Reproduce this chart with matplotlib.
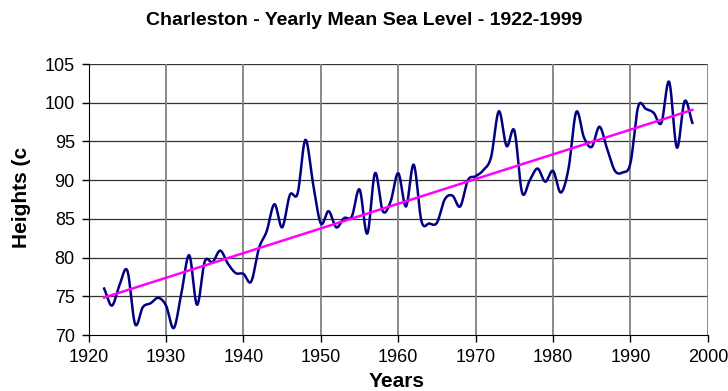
import numpy as np
import matplotlib
matplotlib.use("Agg")
import matplotlib.pyplot as plt

years = list(range(1922, 1999))
levels = [76.0, 73.8, 76.5, 78.3, 71.4, 73.6, 74.1, 74.8, 73.8, 70.9,
          75.5, 80.3, 73.9, 79.5, 79.4, 80.9, 79.2, 78.0, 77.9, 76.9,
          81.2, 83.4, 86.9, 83.9, 88.1, 88.3, 95.2, 89.5, 84.4, 86.0,
          83.9, 85.1, 85.3, 88.8, 83.1, 90.9, 86.0, 87.2, 90.9, 86.6,
          92.0, 84.7, 84.4, 84.5, 87.5, 88.0, 86.6, 90.0, 90.5, 91.3,
          93.0, 98.9, 94.4, 96.4, 88.4, 90.0, 91.5, 89.8, 91.2, 88.4,
          91.5, 98.8, 95.5, 94.3, 96.9, 94.0, 91.2, 91.0, 92.2, 99.5,
          99.2, 98.7, 97.4, 102.7, 94.2, 100.2, 97.4]

xticks = [1920, 1930, 1940, 1950, 1960, 1970, 1980, 1990, 2000]
yticks = [70, 75, 80, 85, 90, 95, 100, 105]

plt.rcParams['font.family'] = ['Liberation Sans', 'DejaVu Sans']

def catmull_rom(x, y, n=20):
    x = np.asarray(x, float); y = np.asarray(y, float)
    px = np.concatenate([[2*x[0]-x[1]], x, [2*x[-1]-x[-2]]])
    py = np.concatenate([[2*y[0]-y[1]], y, [2*y[-1]-y[-2]]])
    xs, ys = [], []
    t = np.linspace(0, 1, n, endpoint=False)
    for i in range(1, len(px)-2):
        for P, out in ((px, xs), (py, ys)):
            p0, p1, p2, p3 = P[i-1], P[i], P[i+1], P[i+2]
            out.extend(0.5*((2*p1) + (-p0+p2)*t + (2*p0-5*p1+4*p2-p3)*t**2 + (-p0+3*p1-3*p2+p3)*t**3))
    xs.append(x[-1]); ys.append(y[-1])
    return np.array(xs), np.array(ys)

fig = plt.figure(figsize=(7.28, 3.91), dpi=100)
ax = fig.add_axes([0.1218, 0.1432, 0.8505, 0.6931])

sx, sy = catmull_rom(years, levels)
ax.plot(sx, sy, color='#000080', lw=1.8, zorder=3)

coef = np.polyfit(years, levels, 1)
tx = np.array([years[0], years[-1]])
ax.plot(tx, np.polyval(coef, tx), color='#FF00FF', lw=1.8, zorder=4)

ax.set_xlim(1920, 2000)
ax.set_ylim(70, 105)
ax.set_xticks(xticks)
ax.set_yticks(yticks)
ax.tick_params(labelsize=13, length=5, width=1, color='black', pad=5)
for yv in yticks[1:]:
    ax.axhline(yv, color='#333333', lw=0.9, zorder=1)
for xv in xticks[1:]:
    ax.axvline(xv, color='#808080', lw=1.3, zorder=1)
ax.spines['top'].set_visible(False)
ax.spines['right'].set_visible(False)
ax.spines['left'].set_color('black')
ax.spines['bottom'].set_color('black')

fig.text(0.5, 0.948, 'Charleston - Yearly Mean Sea Level - 1922-1999',
         ha='center', va='center', fontsize=14, fontweight='bold')
fig.text(0.545, 0.025, 'Years', ha='center', va='center', fontsize=15, fontweight='bold')
fig.text(0.03, 0.494, 'Heights (c', ha='center', va='center', rotation=90,
         fontsize=15, fontweight='bold')

fig.savefig('out.png', dpi=100)
